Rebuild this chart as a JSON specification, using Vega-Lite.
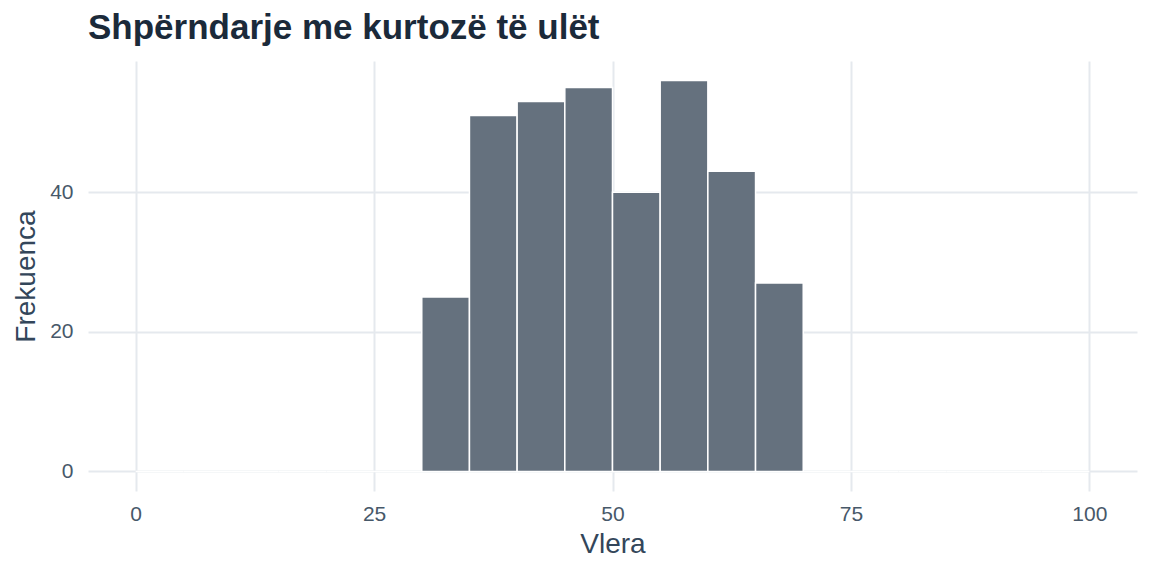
{
  "$schema": "https://vega.github.io/schema/vega-lite/v6.json",
  "autosize": {"type": "none"},
  "padding": {"left": 88, "top": 61, "right": 15, "bottom": 85},
  "width": 1049,
  "height": 430,
  "background": "white",
  "title": {
    "text": "Shpërndarje me kurtozë të ulët",
    "anchor": "start",
    "frame": "group",
    "font": "Liberation Sans",
    "fontSize": 35,
    "fontWeight": "bold",
    "color": "#1b2a3a",
    "offset": 15
  },
  "data": {
    "values": [
      {"start": 0, "end": 5, "count": 0},
      {"start": 5, "end": 10, "count": 0},
      {"start": 10, "end": 15, "count": 0},
      {"start": 15, "end": 20, "count": 0},
      {"start": 20, "end": 25, "count": 0},
      {"start": 25, "end": 30, "count": 0},
      {"start": 30, "end": 35, "count": 25},
      {"start": 35, "end": 40, "count": 51},
      {"start": 40, "end": 45, "count": 53},
      {"start": 45, "end": 50, "count": 55},
      {"start": 50, "end": 55, "count": 40},
      {"start": 55, "end": 60, "count": 56},
      {"start": 60, "end": 65, "count": 43},
      {"start": 65, "end": 70, "count": 27},
      {"start": 70, "end": 75, "count": 0},
      {"start": 75, "end": 80, "count": 0},
      {"start": 80, "end": 85, "count": 0},
      {"start": 85, "end": 90, "count": 0},
      {"start": 90, "end": 95, "count": 0},
      {"start": 95, "end": 100, "count": 0}
    ]
  },
  "mark": {
    "type": "bar",
    "fill": "#65717e",
    "stroke": "white",
    "strokeWidth": 1.5
  },
  "encoding": {
    "x": {
      "field": "start",
      "type": "quantitative",
      "scale": {"domain": [-5, 105], "nice": false, "zero": false},
      "axis": {"values": [0, 25, 50, 75, 100], "title": "Vlera"}
    },
    "x2": {"field": "end"},
    "y": {
      "field": "count",
      "type": "quantitative",
      "scale": {"domain": [-2.8, 58.8], "nice": false, "zero": false},
      "axis": {"values": [0, 20, 40], "title": "Frekuenca"}
    },
    "y2": {"datum": 0}
  },
  "config": {
    "view": {"stroke": null},
    "axis": {
      "domain": false,
      "ticks": false,
      "grid": true,
      "gridColor": "#e5e9ee",
      "gridWidth": 2,
      "labelFont": "Liberation Sans",
      "labelFontSize": 21,
      "labelColor": "#475869",
      "titleFont": "Liberation Sans",
      "titleFontSize": 28,
      "titleFontWeight": "normal",
      "titleColor": "#33465a"
    },
    "axisX": {"labelPadding": 12, "titlePadding": 6},
    "axisY": {"labelPadding": 15, "titlePadding": 9}
  }
}
